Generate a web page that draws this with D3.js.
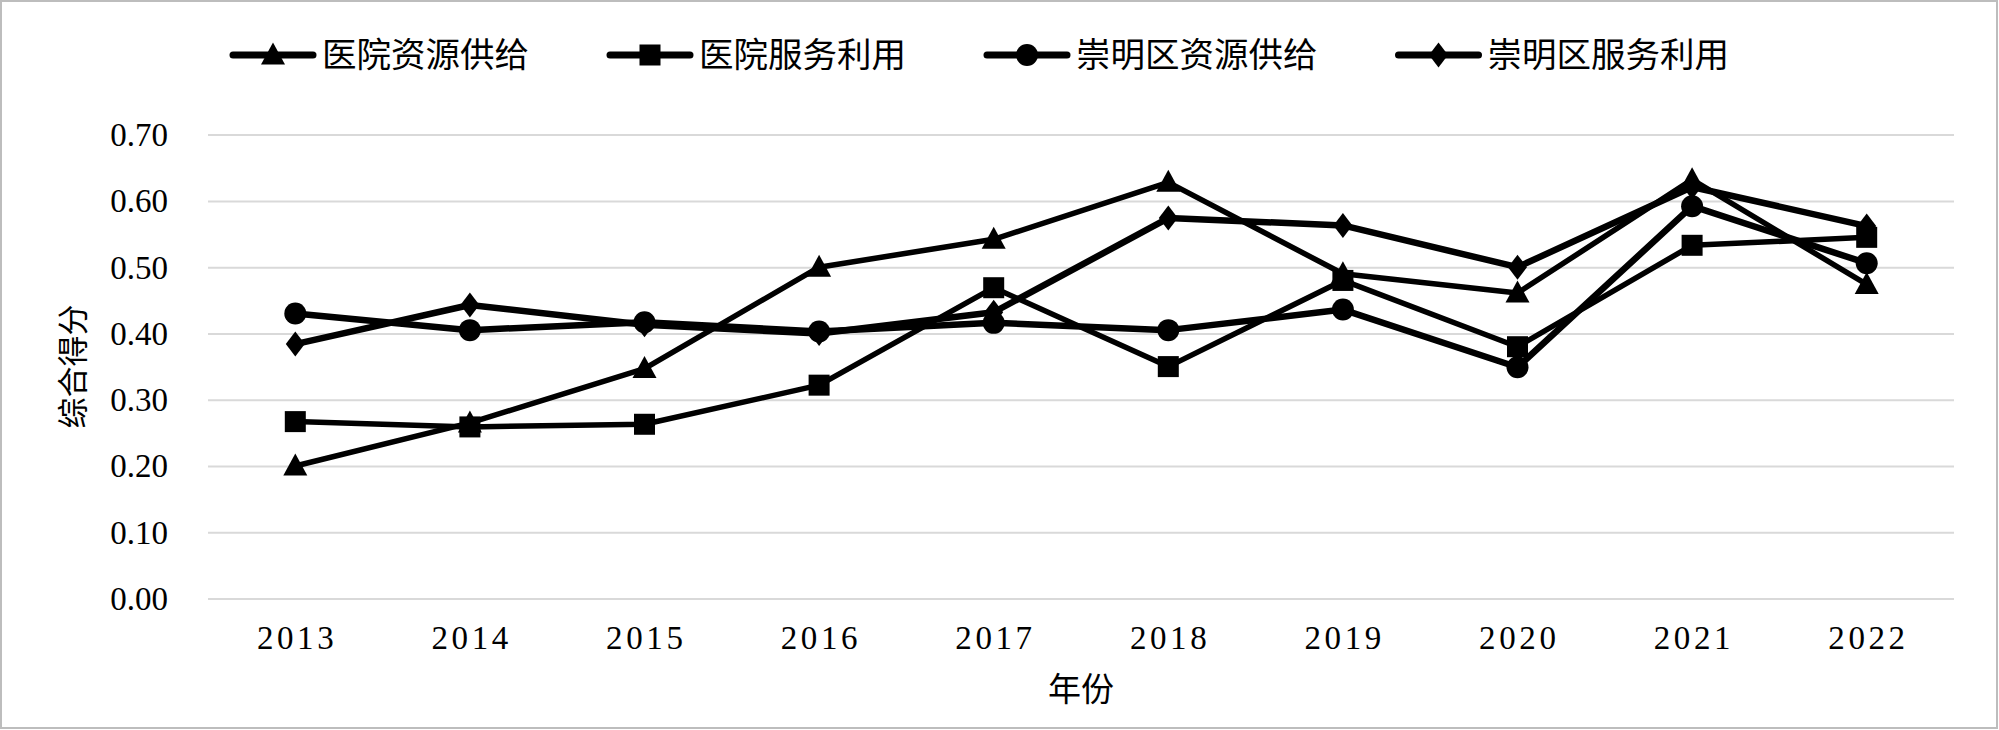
<!DOCTYPE html>
<html><head><meta charset="utf-8">
<script src="https://cdn.jsdelivr.net/npm/d3@7"></script>
<style>
html,body{margin:0;padding:0;background:#fff;}
svg{display:block;}
</style></head>
<body>
<svg id="chart" width="1999" height="730"></svg>
<script>
const years = ["2013","2014","2015","2016","2017","2018","2019","2020","2021","2022"];
const seriesNames = ["医院资源供给","医院服务利用","崇明区资源供给","崇明区服务利用"];
const hospitalSupply = [0.200,0.265,0.347,0.500,0.542,0.628,0.490,0.461,0.632,0.474];
const hospitalService = [0.267,0.259,0.263,0.322,0.469,0.350,0.480,0.380,0.533,0.545];
const districtSupply = [0.430,0.405,0.417,0.403,0.416,0.405,0.436,0.349,0.592,0.506];
const districtService = [0.384,0.443,0.413,0.400,0.432,0.574,0.563,0.500,0.621,0.562];
const yTicks = [0,0.1,0.2,0.3,0.4,0.5,0.6,0.7];
const markers = ["triangle","square","circle","diamond"];
const xTitle = "年份";
const yTitle = "综合得分";

const seriesValues = [hospitalSupply, hospitalService, districtSupply, districtService];

const svg = d3.select("#chart");
const W = 1999, H = 730;
const plot = {left:208, right:1954, top:134.6, bottom:598.6};

// outer border
svg.append("rect").attr("x",1).attr("y",1).attr("width",W-3).attr("height",H-3)
  .attr("fill","#fff").attr("stroke","#bdbdbd").attr("stroke-width",2);

const x = d3.scaleBand().domain(years).range([plot.left, plot.right]).padding(0);
const y = d3.scaleLinear().domain([0,0.7]).range([plot.bottom, plot.top]);
const cx = d => x(d) + x.bandwidth()/2;

// gridlines
const yAxis = d3.axisLeft(y).tickValues(yTicks).tickSize(-(plot.right-plot.left)).tickFormat(d3.format(".2f")).tickPadding(40);
const gy = svg.append("g").attr("transform",`translate(${plot.left},0)`).call(yAxis);
gy.select(".domain").remove();
gy.selectAll(".tick line").attr("stroke","#d9d9d9").attr("stroke-width",2);
gy.selectAll(".tick text").attr("font-family","'Liberation Serif','Times New Roman',serif")
  .attr("font-size",33).attr("fill","#000").attr("dy","0.33em");

// x axis labels
const xAxis = d3.axisBottom(x).tickSize(0).tickPadding(0);
const gx = svg.append("g").attr("transform",`translate(0,${plot.bottom})`).call(xAxis);
gx.select(".domain").remove();
gx.selectAll(".tick text").attr("font-family","'Liberation Serif','Times New Roman',serif")
  .attr("font-size",33).attr("fill","#000").attr("letter-spacing","3.6px")
  .attr("y",0).attr("dy",0).attr("transform","translate(1.8,50)");

// axis titles
svg.append("text").attr("x",(plot.left+plot.right)/2).attr("y",701)
  .attr("text-anchor","middle").attr("font-family","'Noto Sans CJK SC'").attr("font-size",33)
  .attr("fill","#000").text(xTitle);
svg.append("text").attr("transform",`translate(84,${(plot.top+plot.bottom)/2}) rotate(-90)`)
  .attr("text-anchor","middle").attr("font-family","'Noto Sans CJK SC'").attr("font-size",31)
  .attr("fill","#000").text(yTitle);

// marker symbol drawing
function drawMarker(g, type, px, py){
  if(type==="triangle"){
    g.append("path").attr("d",`M${px},${py-12.5}L${px+12},${py+9.5}L${px-12},${py+9.5}Z`).attr("fill","#000");
  } else if(type==="square"){
    g.append("rect").attr("x",px-10.5).attr("y",py-10.5).attr("width",21).attr("height",21).attr("fill","#000");
  } else if(type==="circle"){
    g.append("circle").attr("cx",px).attr("cy",py).attr("r",11).attr("fill","#000");
  } else {
    g.append("path").attr("d",`M${px},${py-12.5}L${px+9.5},${py}L${px},${py+12.5}L${px-9.5},${py}Z`).attr("fill","#000");
  }
}

const lineWidths = [5.5,5.5,6.5,6.5];
const line = d3.line().x((d,i)=>cx(years[i])).y(d=>y(d));
seriesValues.forEach((vals, si) => {
  const g = svg.append("g");
  g.append("path").datum(vals).attr("d",line).attr("fill","none").attr("stroke","#000")
    .attr("stroke-width",lineWidths[si]).attr("stroke-linejoin","round");
  vals.forEach((v,i)=>drawMarker(g, markers[si], cx(years[i]), y(v)));
});

// legend
const legend = svg.append("g");
let lx = 233;
const ly = 55;
seriesNames.forEach((name, si) => {
  const g = legend.append("g");
  g.append("line").attr("x1",lx).attr("x2",lx+80).attr("y1",ly).attr("y2",ly)
    .attr("stroke","#000").attr("stroke-width",7).attr("stroke-linecap","round");
  drawMarker(g, markers[si], lx+40, ly);
  const t = g.append("text").attr("x",lx+89).attr("y",ly).attr("dy","0.36em")
    .attr("font-family","'Noto Sans CJK SC'").attr("font-size",34.5).attr("fill","#000").text(name);
  const tw = t.node().getComputedTextLength();
  lx = lx + 89 + tw + 81;
});
</script>
</body></html>
